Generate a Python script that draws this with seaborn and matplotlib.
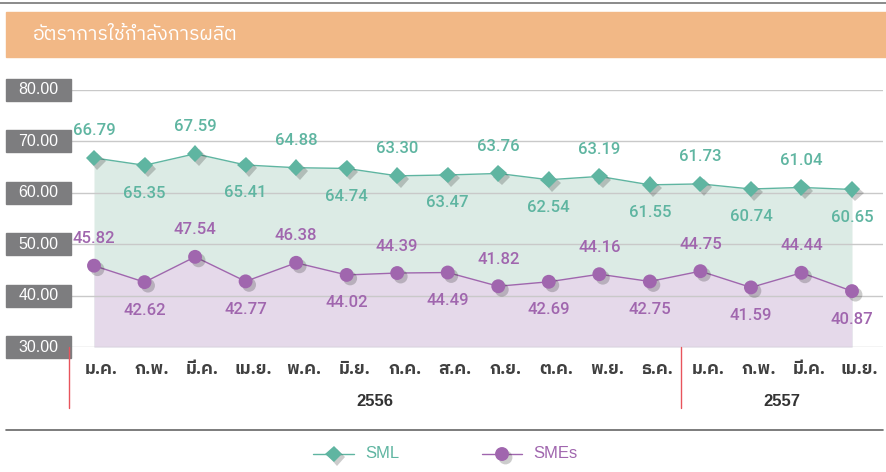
import matplotlib
matplotlib.use("Agg")
import matplotlib.pyplot as plt
import matplotlib.patheffects as pe
from matplotlib import font_manager, ft2font
from matplotlib.patches import Rectangle
from matplotlib.lines import Line2D
from matplotlib.transforms import blended_transform_factory
import seaborn as sns

title = "อัตราการใช้กำลังการผลิต"
months = ["ม.ค.", "ก.พ.", "มี.ค.", "เม.ย.", "พ.ค.", "มิ.ย.", "ก.ค.", "ส.ค.",
          "ก.ย.", "ต.ค.", "พ.ย.", "ธ.ค.", "ม.ค.", "ก.พ.", "มี.ค.", "เม.ย."]
years = ["2556", "2557"]
sml = [66.79, 65.35, 67.59, 65.41, 64.88, 64.74, 63.30, 63.47,
       63.76, 62.54, 63.19, 61.55, 61.73, 60.74, 61.04, 60.65]
smes = [45.82, 42.62, 47.54, 42.77, 46.38, 44.02, 44.39, 44.49,
        41.82, 42.69, 44.16, 42.75, 44.75, 41.59, 44.44, 40.87]
yticks = [30, 40, 50, 60, 70, 80]


def find_thai_font():
    found = []
    for f in font_manager.fontManager.ttflist:
        try:
            cmap = ft2font.FT2Font(f.fname).get_charmap()
        except Exception:
            continue
        if 0x0E01 in cmap:
            found.append(f.name)
    for name in found:
        if "Thai" in name:
            return name
    return found[0] if found else "DejaVu Sans"


sns.set_theme(style="white")
thai = find_thai_font()
plt.rcParams["font.family"] = [thai, "Liberation Sans", "DejaVu Sans"]

W, H = 886, 472
fig = plt.figure(figsize=(W / 100, H / 100), dpi=100)
ax = fig.add_axes([71 / W, 1 - 347 / H, (883 - 71) / W, (347 - 90) / H])

green, green_fill = "#5fb5a1", "#dcebe5"
purple, purple_fill = "#a066ae", "#e5d9ea"
x = list(range(len(months)))

# fills
ax.fill_between(x, sml, 30, color=green_fill, lw=0, zorder=1)
ax.fill_between(x, smes, 30, color=purple_fill, lw=0, zorder=1.1)
for v in yticks:
    ax.axhline(v, color="#c9c9c9", lw=1, zorder=2)

shadow = [pe.SimplePatchShadow(offset=(2.5, -2.5), shadow_rgbFace="k", alpha=0.22),
          pe.Normal()]
sns.lineplot(x=x, y=sml, ax=ax, color=green, lw=1, zorder=3)
sns.lineplot(x=x, y=smes, ax=ax, color=purple, lw=1, zorder=3)
ax.plot(x, sml, ls="none", marker="D", markersize=8.5, color=green,
        markeredgewidth=0, zorder=4, path_effects=shadow)
ax.plot(x, smes, ls="none", marker="o", markersize=10, color=purple,
        markeredgewidth=0, zorder=4, path_effects=shadow)

for series, col in [(sml, green), (smes, purple)]:
    for i, v in enumerate(series):
        off = 27 if i % 2 == 0 else -28
        ax.annotate(f"{v:.2f}", (i, v), xytext=(0, off), textcoords="offset pixels",
                    ha="center", va="center", color=col, fontsize=12,
                    fontweight="medium", family="Roboto", zorder=5)

ax.set_xlim((71 - 94) / 50.53, 15 + (883 - 852) / 50.53)
ax.set_ylim(30, 80)
ax.set_xticks([])
ax.set_yticks([])
for s in ax.spines.values():
    s.set_visible(False)

# y tick boxes
bt = blended_transform_factory(fig.transFigure, ax.transData)
for v in yticks:
    fig.add_artist(Rectangle((6 / W, v - 2.15), 65 / W, 4.3, transform=bt,
                             color="#7d7d7f", clip_on=False))
    fig.text(38.5 / W, v, f"{v:.2f}", transform=bt, ha="center", va="center",
             color="white", fontsize=11.5, family="Liberation Sans")

# month and year labels
mt = blended_transform_factory(ax.transData, fig.transFigure)
for i, m in enumerate(months):
    ax.text(i + 0.15, 1 - 370 / H, m, transform=mt, ha="center", va="center",
            color="#404040", fontsize=12.5, fontweight="bold", clip_on=False)
fig.text(375 / W, 1 - 402 / H, years[0], ha="center", va="center",
         color="#333333", fontsize=12, fontweight="bold", family="Liberation Sans")
fig.text(782 / W, 1 - 402 / H, years[1], ha="center", va="center",
         color="#333333", fontsize=12, fontweight="bold", family="Liberation Sans")
for px in (69, 681):
    fig.add_artist(Line2D([px / W, px / W], [1 - 347 / H, 1 - 408 / H],
                          color="#e8545c", lw=1))

# header
fig.add_artist(Line2D([0, 1], [1 - 3 / H, 1 - 3 / H], color="#777777", lw=1.2))
fig.add_artist(Rectangle((6 / W, 1 - 57 / H), 880 / W, 45 / H,
                         transform=fig.transFigure, color="#f2b886"))
fig.text(33 / W, 1 - 35 / H, title, color="white", fontsize=14, va="center")

# bottom rule and legend
fig.add_artist(Line2D([6 / W, 883 / W], [1 - 430 / H, 1 - 430 / H], color="#666666", lw=1.2))
ly = 1 - 454 / H
for (x0, x1, xt, col, mk, ms, lab) in [(313, 354, 365, green, "D", 8.5, "SML"),
                                      (482, 522, 533, purple, "o", 10, "SMEs")]:
    fig.add_artist(Line2D([x0 / W, x1 / W], [ly, ly], color=col, lw=1))
    fig.add_artist(Line2D([(x0 + x1) / 2 / W], [ly], color=col, marker=mk,
                          markersize=ms, markeredgewidth=0, path_effects=shadow))
    fig.text(xt / W, ly, lab, color=col, fontsize=12, va="center",
             family="Liberation Sans")

fig.savefig("out.png", dpi=100)
